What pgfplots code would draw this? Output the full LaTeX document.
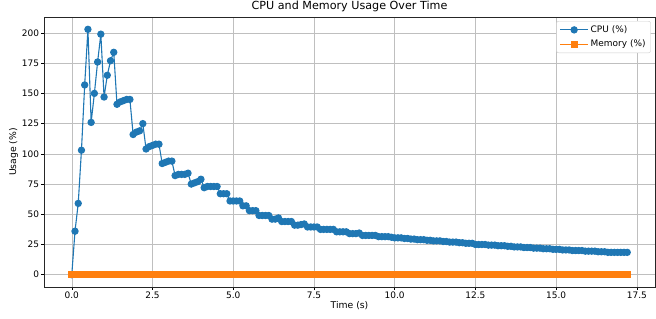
\documentclass[border=0pt]{standalone}
\usepackage{pgfplots}
\usepackage{pgfplotstable}
\pgfplotsset{compat=1.18}
\usepackage{fontspec}
\setmainfont{DejaVu Sans}
\definecolor{mplblue}{HTML}{1F77B4}
\definecolor{mplorange}{HTML}{FF7F0E}
\pgfplotstableread{
t cpu mem
0.0 0 0
0.1 36 0
0.2 59 0
0.3 103 0
0.4 157 0
0.5 203 0
0.6 126 0
0.7 150 0
0.8 176 0
0.9 199 0
1.0 147 0
1.1 165 0
1.2 177 0
1.3 184 0
1.4 141 0
1.5 143 0
1.6 144 0
1.7 145 0
1.8 145 0
1.9 116 0
2.0 118 0
2.1 119 0
2.2 125 0
2.3 104 0
2.4 106 0
2.5 107 0
2.6 108 0
2.7 108 0
2.8 92 0
2.9 93 0
3.0 94 0
3.1 94 0
3.2 82 0
3.3 83 0
3.4 83 0
3.5 83 0
3.6 84 0
3.7 75 0
3.8 76 0
3.9 77 0
4.0 79 0
4.1 72 0
4.2 73 0
4.3 73 0
4.4 73 0
4.5 73 0
4.6 67 0
4.7 67 0
4.8 67 0
4.9 61 0
5.0 61 0
5.1 61 0
5.2 61 0
5.3 57 0
5.4 57 0
5.5 53 0
5.6 53 0
5.7 53 0
5.8 49 0
5.9 49 0
6.0 49 0
6.1 49 0
6.2 46 0
6.3 46 0
6.4 47 0
6.5 44 0
6.6 44 0
6.7 44 0
6.8 44 0
6.9 41 0
7.0 41 0
7.1 41.5 0
7.2 42 0
7.3 39.5 0
7.4 39.5 0
7.5 39.5 0
7.6 39.5 0
7.7 37.5 0
7.8 37.5 0
7.9 37.5 0
8.0 37.5 0
8.1 37.5 0
8.2 35.5 0
8.3 35.5 0
8.4 35.5 0
8.5 35.5 0
8.6 34 0
8.7 34 0
8.8 34 0
8.9 34.5 0
9.0 32.5 0
9.1 32.5 0
9.2 32.5 0
9.3 32.5 0
9.4 32.5 0
9.5 31.5 0
9.6 31.5 0
9.7 31.5 0
9.8 31.5 0
9.9 31 0
10.0 30.5 0
10.1 30.5 0
10.2 30.5 0
10.3 30 0
10.4 30 0
10.5 29.5 0
10.6 29.5 0
10.7 29 0
10.8 29 0
10.9 29 0
11.0 28.5 0
11.1 28.5 0
11.2 28 0
11.3 28 0
11.4 28 0
11.5 27.5 0
11.6 27.5 0
11.7 27 0
11.8 27 0
11.9 27 0
12.0 26.5 0
12.1 26.5 0
12.2 26 0
12.3 26 0
12.4 26 0
12.5 25 0
12.6 25 0
12.7 25 0
12.8 25 0
12.9 24.5 0
13.0 24.5 0
13.1 24.5 0
13.2 24 0
13.3 24 0
13.4 24 0
13.5 23.5 0
13.6 23.5 0
13.7 23 0
13.8 23 0
13.9 23 0
14.0 22.5 0
14.1 22.5 0
14.2 22.5 0
14.3 22 0
14.4 22 0
14.5 22 0
14.6 21.5 0
14.7 21.5 0
14.8 21.5 0
14.9 21 0
15.0 21 0
15.1 21 0
15.2 20.5 0
15.3 20.5 0
15.4 20.5 0
15.5 20 0
15.6 20 0
15.7 20 0
15.8 20 0
15.9 19.5 0
16.0 19.5 0
16.1 19.5 0
16.2 19.5 0
16.3 19 0
16.4 19 0
16.5 19 0
16.6 18.5 0
16.7 18.5 0
16.8 18.5 0
16.9 18.5 0
17.0 18.5 0
17.1 18.5 0
17.2 18.5 0
}\datatable
\begin{document}
\begin{tikzpicture}
\path[use as bounding box] (-44bp,-32bp) rectangle (612bp,287bp);
\begin{axis}[
  at={(0,0)}, anchor=south west,
  scale only axis, width=611bp, height=270bp,
  xmin=-0.86, xmax=18.06, ymin=-10.15, ymax=213.2,
  xtick={0,2.5,5,7.5,10,12.5,15,17.5},
  xticklabels={0.0,2.5,5.0,7.5,10.0,12.5,15.0,17.5},
  ytick={0,25,50,75,100,125,150,175,200},
  tick align=outside, major tick length=2.5bp,
  tick style={black, line width=0.5bp},
  xtick pos=bottom, ytick pos=left,
  grid=major,
  major grid style={color=black!25, line width=0.5bp},
  axis line style={black!85, line width=0.6bp},
  /pgf/number format/assume math mode=true,
  tick label style={font=\fontsize{9}{10}\selectfont},
  xticklabel style={yshift=1bp},
  yticklabel style={xshift=1bp},
  xlabel={Time (s)}, ylabel={Usage (\%)},
  label style={font=\fontsize{9.3}{11}\selectfont},
  xlabel style={yshift=4bp},
  ylabel style={yshift=-3bp},
  title={CPU and Memory Usage Over Time},
  title style={font=\fontsize{11.2}{13}\selectfont, yshift=-4.5bp},
  legend style={at={(0.993,0.985)}, anchor=north east, font=\fontsize{9}{11}\selectfont,
    draw=black!20, rounded corners=2bp, inner xsep=3bp, inner ysep=2.5bp, row sep=2bp},
  legend cell align=left,
  legend image code/.code={
    \draw[mark repeat=2, mark phase=2] plot coordinates {(0bp,0bp) (14bp,0bp) (28bp,0bp)};
  },
]
\addplot[mplblue, line width=1.1bp, mark=*, mark size=3.1bp, mark options={solid, fill=mplblue, draw=mplblue}]
  table[x=t, y=cpu] {\datatable};
\addlegendentry{CPU (\%)}
\addplot[mplorange, line width=1.1bp, mark=square*, mark size=2.8bp, mark options={solid, fill=mplorange, draw=mplorange}]
  table[x=t, y=mem] {\datatable};
\addlegendentry{Memory (\%)}
\end{axis}
\end{tikzpicture}
\end{document}
